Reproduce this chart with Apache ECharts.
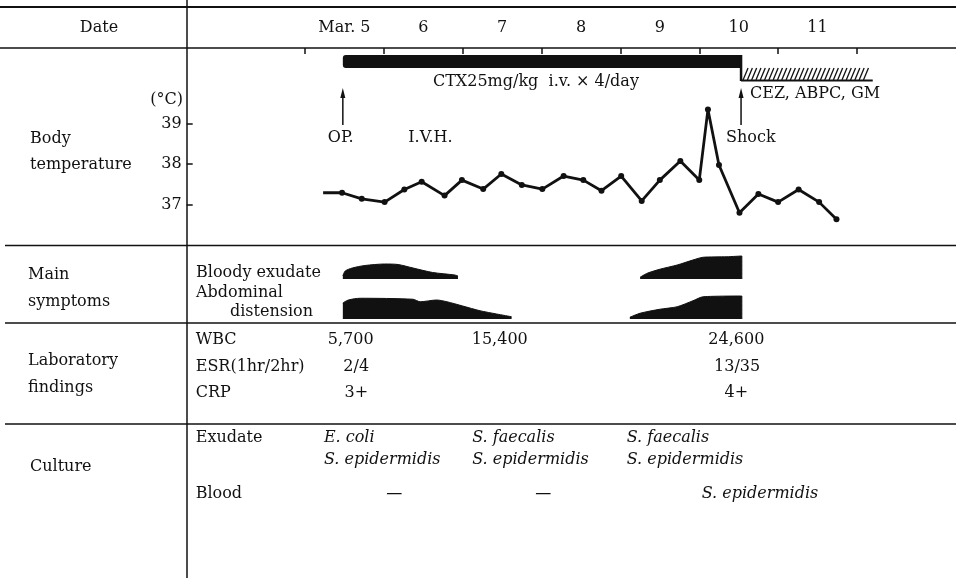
<!DOCTYPE html>
<html>
<head>
<meta charset="utf-8">
<script src="https://cdn.jsdelivr.net/npm/echarts@6/dist/echarts.min.js"></script>
<style>
  html, body { margin: 0; padding: 0; background: #fff; }
  #chart { width: 956px; height: 578px; }
</style>
</head>
<body>
<div id="chart"></div>
<script>
// ---- Day axis (value = day of March) ----
const dayTicks = [5, 6, 7, 8, 9, 10, 11];
const dayLabels = ['Mar. 5', '6', '7', '8', '9', '10', '11'];
const dayBoundaries = [4.5, 5.5, 6.5, 7.5, 8.5, 9.5, 10.5, 11.5];

// ---- Body temperature (°C), four readings a day ----
const tempTicks = [37, 38, 39];
const tempDays = [4.73, 4.97, 5.22, 5.51, 5.76, 5.98, 6.27, 6.49, 6.76, 6.99,
                  7.25, 7.51, 7.78, 8.03, 8.26, 8.51, 8.77, 9.00, 9.26, 9.50,
                  9.61, 9.75, 10.01, 10.25, 10.50, 10.76, 11.02, 11.24];
const tempValues = [37.30, 37.30, 37.15, 37.07, 37.38, 37.57, 37.23, 37.61, 37.39, 37.76,
                    37.49, 37.39, 37.71, 37.61, 37.35, 37.71, 37.10, 37.61, 38.08, 37.61,
                    39.34, 37.98, 36.81, 37.27, 37.07, 37.38, 37.07, 36.65];

// ---- Antibiotic courses ----
const ctxCourse = [4.98, 10.03];
const ctxLabel = 'CTX25mg/kg  i.v. × 4/day';
const laterCourse = [10.03, 11.70];
const laterLabel = 'CEZ, ABPC, GM';

// ---- Clinical events ----
const arrowEventDays = [4.98, 10.03];
const arrowEventLabels = ['OP.', 'Shock'];
const noteDays = [6.0];
const noteLabels = ['I.V.H.'];

// ---- Main symptoms (relative severity 0-1) ----
const symptomRows = ['Bloody exudate', 'Abdominal', 'distension'];
const bloodyDaysA = [4.98, 5.01, 5.10, 5.26, 5.51, 5.68, 5.87, 6.12, 6.40, 6.44];
const bloodyLevelA = [0.12, 0.32, 0.44, 0.54, 0.60, 0.58, 0.44, 0.26, 0.16, 0.12];
const bloodyDaysB = [8.75, 8.84, 9.00, 9.22, 9.42, 9.55, 9.85, 10.04, 10.04];
const bloodyLevelB = [0.07, 0.23, 0.39, 0.56, 0.76, 0.87, 0.89, 0.92, 0];
const abdoDaysA = [4.98, 5.05, 5.20, 5.87, 5.96, 6.17, 6.30, 6.50, 6.72, 6.93, 7.12];
const abdoLevelA = [0.64, 0.76, 0.83, 0.79, 0.69, 0.76, 0.69, 0.52, 0.33, 0.20, 0.09];
const abdoDaysB = [8.62, 8.75, 9.00, 9.22, 9.42, 9.55, 10.04, 10.04];
const abdoLevelB = [0.07, 0.23, 0.39, 0.49, 0.73, 0.89, 0.92, 0];

// ---- Laboratory findings ----
const labRows = ['WBC', 'ESR(1hr/2hr)', 'CRP'];
const wbcDays = [5.08, 6.97, 9.97];
const wbcValues = ['5,700', '15,400', '24,600'];
const esrDays = [5.15, 9.98];
const esrValues = ['2/4', '13/35'];
const crpDays = [5.15, 9.97];
const crpValues = ['3+', '4+'];

// ---- Culture ----
const cultureRows = ['Exudate', 'Blood'];
const exudateDays = [4.74, 6.62, 8.58];
const exudateValues = ['E. coli\nS. epidermidis', 'S. faecalis\nS. epidermidis', 'S. faecalis\nS. epidermidis'];
const bloodDays = [5.53, 7.42, 9.53];
const bloodValues = ['—', '—', 'S. epidermidis'];

// ---- Section headings on the left ----
const sectionHeadings = [['Date'], ['Body', 'temperature'], ['Main', 'symptoms'], ['Laboratory', 'findings'], ['Culture']];

// ================= layout =================
const FONT = '"DejaVu Serif", "Liberation Serif", serif';
const FS = 16;
const INK = '#111';
const X_MIN = 3, X_MAX = 12;
const GRID_LEFT = 186.7, GRID_RIGHT = 59.6;

const chart = echarts.init(document.getElementById('chart'));

const pairs = (xs, ys) => xs.map((x, i) => [x, ys[i]]);

function hLine(y, x1, x2, w) {
  return { type: 'line', silent: true, shape: { x1: x1, y1: y, x2: x2, y2: y },
           style: { stroke: INK, lineWidth: w || 1.5 } };
}
function txt(text, x, y, align, extra) {
  return Object.assign({ type: 'text', silent: true,
    style: { text: text, x: x, y: y, fill: INK, fontFamily: FONT, fontSize: FS,
             align: align || 'left', verticalAlign: 'middle' } }, extra || {});
}

const headingPos = [[99, 28, 'center', 0], [30, 139, 'left', 26], [28, 275, 'left', 27], [28, 361, 'left', 27], [30, 467, 'left', 0]];
const headingGraphics = [];
sectionHeadings.forEach((lines, i) => {
  const p = headingPos[i];
  lines.forEach((t, j) => headingGraphics.push(txt(t, p[0], p[1] + j * p[3], p[2])));
});

const symptomPos = [[196, 273], [196, 293], [230, 312]];
const symptomGraphics = symptomRows.map((t, i) => txt(t, symptomPos[i][0], symptomPos[i][1]));

const gridLines = [
  hLine(7, 0, 956, 2), hLine(48, 0, 956, 1.5), hLine(245.5, 5, 956, 1.5),
  hLine(323, 5, 956, 1.5), hLine(424, 5, 956, 1.5),
  { type: 'line', silent: true, shape: { x1: 187, y1: 0, x2: 187, y2: 578 },
    style: { stroke: INK, lineWidth: 1.5 } }
];

function axisX(i, show) {
  const base = { gridIndex: i, type: 'value', min: X_MIN, max: X_MAX, show: show, splitLine: { show: false } };
  if (!show) return base;
  return Object.assign(base, {
    position: 'top',
    axisLine: { show: false },
    axisTick: { show: true, inside: true, length: 6, customValues: dayBoundaries,
                lineStyle: { color: INK, width: 1.5 } },
    axisLabel: { show: true, customValues: dayTicks, margin: 12, color: INK,
                 fontFamily: FONT, fontSize: FS,
                 formatter: v => dayLabels[dayTicks.indexOf(Math.round(v))] }
  });
}

// solid bar of the first course
function renderSolidCourse(params, api) {
  const top = params.coordSys.y;
  const x0 = api.coord([api.value(0), 38])[0];
  const x1 = api.coord([api.value(1), 38])[0];
  return { type: 'group', children: [
    { type: 'rect', shape: { x: x0, y: top + 7, width: x1 - x0, height: 13, r: [3, 0, 0, 3] },
      style: { fill: INK } },
    { type: 'text', style: { text: ctxLabel, x: (x0 + x1) / 2 - 6, y: top + 34, align: 'center',
      verticalAlign: 'middle', fill: INK, fontFamily: FONT, fontSize: FS } }
  ] };
}
// hatched bar of the second course
function renderHatchedCourse(params, api) {
  const top = params.coordSys.y;
  const x0 = api.coord([api.value(0), 38])[0];
  const x1 = api.coord([api.value(1), 38])[0];
  const kids = [
    { type: 'line', shape: { x1: x0, y1: top + 7, x2: x0, y2: top + 33 }, style: { stroke: INK, lineWidth: 2.5 } },
    { type: 'line', shape: { x1: x0, y1: top + 32.5, x2: x1, y2: top + 32.5 }, style: { stroke: INK, lineWidth: 2 } }
  ];
  for (let x = x0 + 2; x + 5 <= x1; x += 4.3) {
    kids.push({ type: 'line', shape: { x1: x, y1: top + 32, x2: x + 5, y2: top + 20 },
                style: { stroke: INK, lineWidth: 1.3 } });
  }
  kids.push({ type: 'text', style: { text: laterLabel, x: x0 + 9, y: top + 46, align: 'left',
    verticalAlign: 'middle', fill: INK, fontFamily: FONT, fontSize: FS } });
  return { type: 'group', children: kids };
}
function renderArrowEvent(params, api) {
  const top = params.coordSys.y;
  const x = api.coord([api.value(0), 38])[0];
  return { type: 'group', children: [
    { type: 'line', shape: { x1: x, y1: top + 46, x2: x, y2: top + 77 }, style: { stroke: INK, lineWidth: 1.5 } },
    { type: 'polygon', shape: { points: [[x, top + 40], [x - 2.5, top + 50], [x + 2.5, top + 50]] }, style: { fill: INK } },
    { type: 'text', style: { text: arrowEventLabels[params.dataIndex], x: x - 15, y: top + 90, align: 'left',
      verticalAlign: 'middle', fill: INK, fontFamily: FONT, fontSize: FS } }
  ] };
}
function renderNote(params, api) {
  const top = params.coordSys.y;
  const x = api.coord([api.value(0), 38])[0];
  return { type: 'text', style: { text: noteLabels[params.dataIndex], x: x - 15, y: top + 90, align: 'left',
    verticalAlign: 'middle', fill: INK, fontFamily: FONT, fontSize: FS } };
}

function symptomSeries(grid, days, levels) {
  return { type: 'line', xAxisIndex: grid, yAxisIndex: grid, data: pairs(days, levels),
    symbol: 'none', smooth: 0.25, silent: true,
    lineStyle: { color: INK, width: 1 }, areaStyle: { color: INK, opacity: 1 } };
}

// table values: text anchored on the day axis, drawn by a custom series
function textSeries(grid, row, days, values, align, italic) {
  return { type: 'custom', xAxisIndex: grid, yAxisIndex: grid, silent: true, clip: false,
    encode: { x: 0, y: 1 },
    data: days.map((d, i) => [d, row]),
    renderItem: (params, api) => {
      const p = api.coord([api.value(0), api.value(1)]);
      return { type: 'text', style: { text: values[params.dataIndex], x: p[0], y: p[1],
        align: align, verticalAlign: 'middle', fill: INK, fontFamily: FONT, fontSize: FS,
        lineHeight: 22, fontStyle: italic ? 'italic' : 'normal' } };
    } };
}

const cultureLines = cultureRows.map((r, i) => {
  const vals = i === 0 ? exudateValues : bloodValues;
  return Math.max.apply(null, vals.map(v => v.split('\n').length));
});

const option = {
  backgroundColor: '#fff',
  animation: false,
  textStyle: { fontFamily: FONT },
  grid: [
    { left: GRID_LEFT, right: GRID_RIGHT, top: 48, height: 197.75 },
    { left: GRID_LEFT, right: GRID_RIGHT, top: 254, height: 25 },
    { left: GRID_LEFT, right: GRID_RIGHT, top: 294, height: 25 },
    { left: GRID_LEFT, right: GRID_RIGHT, top: 326.75, height: 79.5 },
    { left: GRID_LEFT, right: GRID_RIGHT, top: 426.5, height: 90 }
  ],
  xAxis: [axisX(0, true), axisX(1, false), axisX(2, false), axisX(3, false), axisX(4, false)],
  yAxis: [
    { gridIndex: 0, type: 'value', min: 36, max: 40.85, position: 'left',
      axisLine: { show: false }, splitLine: { show: false },
      axisTick: { show: true, inside: true, length: 6, customValues: tempTicks,
                  lineStyle: { color: INK, width: 1.5 } },
      axisLabel: { show: true, customValues: tempTicks, margin: 5, color: INK,
                   fontFamily: FONT, fontSize: FS } },
    { gridIndex: 1, type: 'value', min: 0, max: 1, show: false },
    { gridIndex: 2, type: 'value', min: 0, max: 1, show: false },
    { gridIndex: 3, type: 'category', data: labRows, inverse: true,
      axisLine: { show: false }, axisTick: { show: false }, splitLine: { show: false },
      axisLabel: { inside: true, margin: 9, align: 'left', color: INK, fontFamily: FONT, fontSize: FS } },
    { gridIndex: 4, type: 'category', data: cultureRows, inverse: true,
      axisLine: { show: false }, axisTick: { show: false }, splitLine: { show: false },
      axisLabel: { inside: true, margin: 9, align: 'left', color: INK, fontFamily: FONT, fontSize: FS,
                   lineHeight: 22,
                   formatter: (v, i) => v + '\n '.repeat(cultureLines[i] - 1) } }
  ],
  graphic: gridLines.concat(headingGraphics, symptomGraphics,
    [txt('(°C)', 183, 100, 'right')]),
  series: [
    { type: 'custom', xAxisIndex: 0, yAxisIndex: 0, clip: false, silent: true,
      renderItem: renderSolidCourse, encode: { x: [0, 1] }, data: [ctxCourse] },
    { type: 'custom', xAxisIndex: 0, yAxisIndex: 0, clip: false, silent: true,
      renderItem: renderHatchedCourse, encode: { x: [0, 1] }, data: [laterCourse] },
    { type: 'custom', xAxisIndex: 0, yAxisIndex: 0, clip: false, silent: true,
      renderItem: renderArrowEvent, encode: { x: 0 }, data: arrowEventDays.map(d => [d]) },
    { type: 'custom', xAxisIndex: 0, yAxisIndex: 0, clip: false, silent: true,
      renderItem: renderNote, encode: { x: 0 }, data: noteDays.map(d => [d]) },
    { type: 'line', xAxisIndex: 0, yAxisIndex: 0, silent: true, z: 5,
      data: tempDays.map((d, i) => i === 0
        ? { value: [d, tempValues[i]], symbol: 'none' }
        : { value: [d, tempValues[i]] }),
      symbol: 'circle', symbolSize: 6,
      lineStyle: { color: INK, width: 2.8 }, itemStyle: { color: INK } },
    symptomSeries(1, bloodyDaysA, bloodyLevelA),
    symptomSeries(1, bloodyDaysB, bloodyLevelB),
    symptomSeries(2, abdoDaysA, abdoLevelA),
    symptomSeries(2, abdoDaysB, abdoLevelB),
    textSeries(3, 0, wbcDays, wbcValues, 'center', false),
    textSeries(3, 1, esrDays, esrValues, 'center', false),
    textSeries(3, 2, crpDays, crpValues, 'center', false),
    textSeries(4, 0, exudateDays, exudateValues, 'left', true),
    textSeries(4, 1, bloodDays, bloodValues, 'left', true)
  ]
};

chart.setOption(option);
</script>
</body>
</html>
